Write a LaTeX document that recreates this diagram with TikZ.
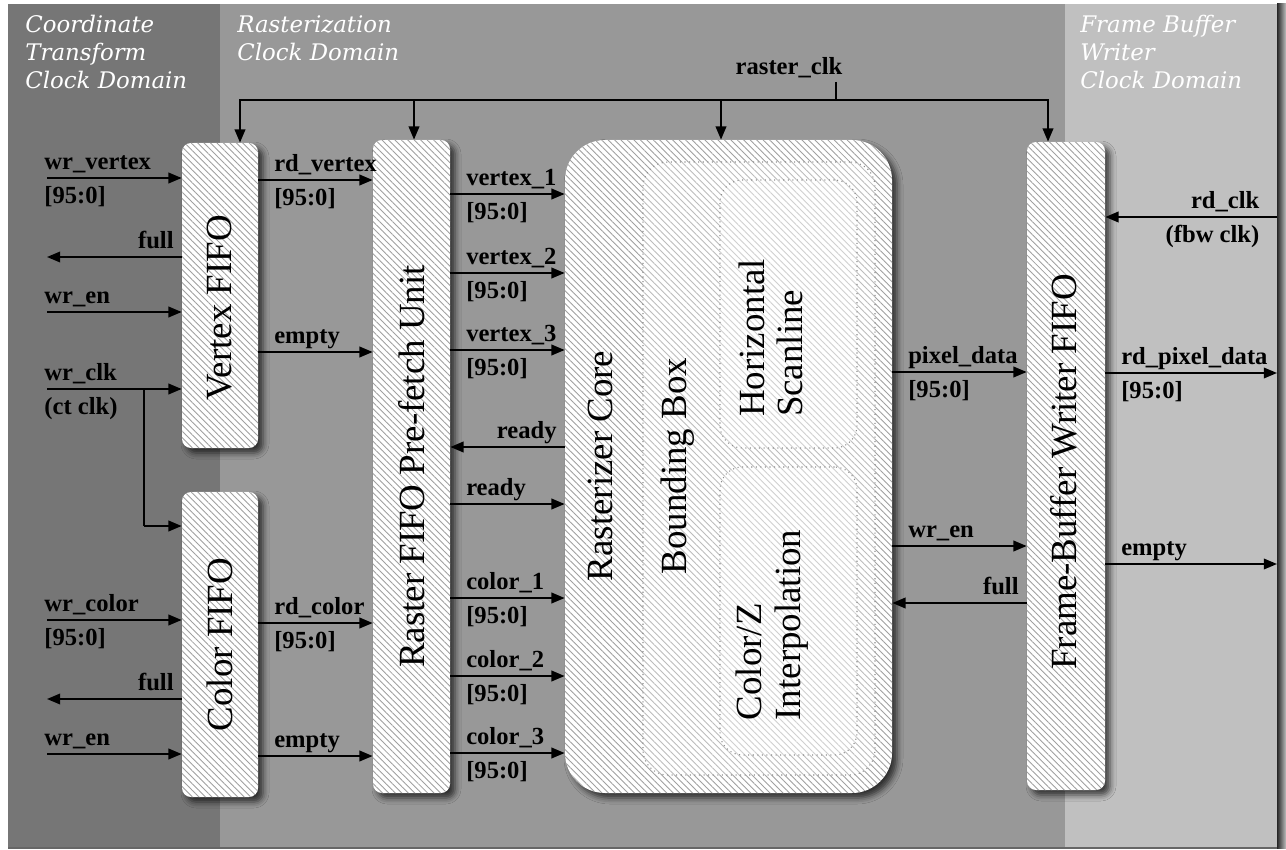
\documentclass[tikz,border=0pt]{standalone}
\usepackage{fontspec}
\setmainfont{Liberation Serif}
\newfontfamily\domfont{DejaVu Serif}
\usetikzlibrary{arrows.meta, patterns.meta, shadows.blur, calc}

\definecolor{ctgray}{RGB}{118,118,118}
\definecolor{rzgray}{RGB}{152,152,152}
\definecolor{fbgray}{RGB}{192,192,192}
\definecolor{hatch}{RGB}{160,160,160}

\begin{document}
\begin{tikzpicture}[x=0.2mm, y=-0.2mm,
  wire/.style={line width=1.1pt, black},
  sig/.style={wire, -{Triangle[length=7.5pt, width=6pt]}},
  lbl/.style={font=\fontsize{14}{16}\selectfont\bfseries, inner sep=0pt},
  tl/.style={lbl, pos=0, anchor=base west, yshift=5pt},
  bl/.style={lbl, pos=0, anchor=base west, yshift=-14.5pt},
  tr/.style={lbl, pos=0, anchor=base east, xshift=-4pt, yshift=5pt},
  hatched/.style={draw=none, fill=white,
    postaction={pattern={Lines[angle=-45, distance=2.6pt, line width=0.5pt]}, pattern color=hatch},
    blur shadow={shadow xshift=1mm, shadow yshift=-1mm, shadow blur radius=1.2mm, shadow opacity=70}},
  fifo/.style={hatched, rounded corners=1.8mm, minimum width=15.2mm, inner sep=0pt},
  dotbox/.style={draw=black!45, dotted, line width=0.6pt, fill=white, fill opacity=0.3,
    rounded corners=5mm, inner sep=0pt},
  boxtext/.style={rotate=90, font=\fontsize{21}{22}\selectfont, inner sep=0pt},
  domlabel/.style={font=\domfont\itshape\fontsize{13}{16}\selectfont, text=white,
    align=left, anchor=north west, inner sep=0pt}]

  \useasboundingbox (0,0) rectangle (1286,850);
  \fill[white] (0,0) rectangle (1286,850);

  % Clock domains
  \fill[ctgray] (8,4) rectangle (220,848);
  \fill[rzgray] (220,4) rectangle (1065,848);
  \fill[fbgray] (1065,4) rectangle (1277,848);
  \shade[left color=black!85, right color=black!25] (1277,4) rectangle (1286,848);
  \draw[black!60, line width=0.6pt] (8,848) -- (1277,848);
  \node[domlabel] (ctdom) at (25,15) {Coordinate\\Transform\\Clock Domain};
  \node[domlabel] (rzdom) at (237,15) {Rasterization\\Clock Domain};
  \node[domlabel] (fbdom) at (1080,15) {Frame Buffer\\Writer\\Clock Domain};

  % Blocks
  \node[fifo, minimum height=61mm] (vfifo) at (220,295.5) {};
  \node[fifo, minimum height=61mm] (cfifo) at (220,644.5) {};
  \node[fifo, minimum width=15.4mm, minimum height=130.6mm] (raster) at (411.5,466.5) {};
  \node[hatched, rounded corners=8mm, minimum width=65.4mm, minimum height=130.6mm,
        inner sep=0pt] (core) at (728.5,466.5) {};
  \node[fifo, minimum width=15.6mm, minimum height=129.6mm] (fbw) at (1066,466) {};
  \node[dotbox, minimum width=46.4mm, minimum height=122.6mm] (bbox) at (759,468.5) {};
  \node[dotbox, rounded corners=4.5mm, minimum width=27.4mm, minimum height=53.6mm] (hscan) at (788.5,314) {};
  \node[dotbox, rounded corners=4.5mm, minimum width=27.4mm, minimum height=57.6mm] (cinterp) at (788.5,611) {};

  \node[boxtext] (vfifotxt) at ([yshift=-2.5mm]vfifo.center) {Vertex FIFO};
  \node[boxtext] (cfifotxt) at (cfifo.center) {Color FIFO};
  \node[boxtext] (rastertxt) at (raster.center) {Raster FIFO Pre-fetch Unit};
  \node[boxtext] (coretxt) at (600,466) {Rasterizer Core};
  \node[boxtext] (bboxtxt) at (678,466) {Bounding Box};
  \node[boxtext, align=left] (hscantxt) at (771,338) {Horizontal\\Scanline};
  \node[boxtext, align=left] (cinterptxt) at (772,625) {Color/Z\\Interpolation};
  \node[boxtext] (fbwtxt) at (1064,472) {Frame-Buffer Writer FIFO};

  % raster_clk
  \coordinate (clkin) at (836,82);
  \coordinate (bus) at (836,100);
  \node[lbl, anchor=base] (clklbl) at (789,75) {raster\_clk};
  \draw[wire] (clkin) -- (bus);
  \draw[sig] (bus) -| ([xshift=4mm]vfifo.north);
  \draw[sig] (bus) -| ([xshift=0.5mm]raster.north);
  \draw[sig] (bus) -| ([xshift=-1.5mm]core.north);
  \draw[sig] (bus) -| ([xshift=-3.6mm]fbw.north);

  % Free ends
  \coordinate (wv) at (47,178);
  \coordinate (vfull) at (47,257);
  \coordinate (ven) at (47,312);
  \coordinate (wck) at (47,389);
  \coordinate (wbr) at (144,389);
  \coordinate (cck) at (144,526);
  \coordinate (wcol) at (47,620);
  \coordinate (cfull) at (47,699);
  \coordinate (cen) at (47,754);
  \coordinate (rdclk) at (1277,217);
  \coordinate (rpd) at (1277,373);
  \coordinate (fempty) at (1277,564);

  % Coordinate transform inputs
  \draw[sig] (wv) -- (wv -| vfifo.west) node[tl, xshift=-2pt] (wvt) {wr\_vertex}
    node[bl, xshift=-2pt] (wvb) {[95:0]};
  \draw[sig] (vfull -| vfifo.west) -- (vfull) node[tr] (vfullt) {full};
  \draw[sig] (ven) -- (ven -| vfifo.west) node[tl, xshift=-2pt] (vent) {wr\_en};
  \draw[sig] (wck) -- (wck -| vfifo.west) node[tl, xshift=-2pt] (wckt) {wr\_clk}
    node[bl, xshift=-2pt] (wckb) {(ct clk)};
  \draw[wire] (wbr) -- (cck);
  \draw[sig] (cck) -- (cck -| cfifo.west);
  \draw[sig] (wcol) -- (wcol -| cfifo.west) node[tl, xshift=-2pt] (wcolt) {wr\_color}
    node[bl, xshift=-2pt] (wcolb) {[95:0]};
  \draw[sig] (cfull -| cfifo.west) -- (cfull) node[tr] (cfullt) {full};
  \draw[sig] (cen) -- (cen -| cfifo.west) node[tl, xshift=-2pt] (cent) {wr\_en};

  % FIFOs to pre-fetch unit
  \draw[sig] (vfifo.east |- 0,180) -- (raster.west |- 0,180) node[tl, xshift=8.5pt] (rdvt) {rd\_vertex}
    node[bl, xshift=8.5pt] (rdvb) {[95:0]};
  \draw[sig] (vfifo.east |- 0,352) -- (raster.west |- 0,352) node[tl, xshift=8.5pt] (vemt) {empty};
  \draw[sig] (cfifo.east |- 0,623) -- (raster.west |- 0,623) node[tl, xshift=8.5pt] (rdct) {rd\_color}
    node[bl, xshift=8.5pt] (rdcb) {[95:0]};
  \draw[sig] (cfifo.east |- 0,756) -- (raster.west |- 0,756) node[tl, xshift=8.5pt] (cemt) {empty};

  % Pre-fetch unit to rasterizer core
  \foreach \y/\lab [count=\i] in {194/vertex\_1, 273/vertex\_2, 350/vertex\_3,
                                 598/color\_1, 676/color\_2, 753/color\_3} {
    \draw[sig] (raster.east |- 0,\y) -- (core.west |- 0,\y) node[tl, xshift=8.5pt] (bus\i t) {\lab}
      node[bl, xshift=8.5pt] (bus\i b) {[95:0]};
  }
  \draw[sig] (core.west |- 0,447) -- (raster.east |- 0,447) node[tr] (rdyl) {ready};
  \draw[sig] (raster.east |- 0,504) -- (core.west |- 0,504) node[tl, xshift=8.5pt] (rdyr) {ready};

  % Rasterizer core to frame-buffer writer
  \draw[sig] (core.east |- 0,372) -- (fbw.west |- 0,372) node[tl, xshift=8.5pt] (pxt) {pixel\_data}
    node[bl, xshift=8.5pt] (pxb) {[95:0]};
  \draw[sig] (core.east |- 0,546) -- (fbw.west |- 0,546) node[tl, xshift=8.5pt] (fwent) {wr\_en};
  \draw[sig] (fbw.west |- 0,603) -- (core.east |- 0,603) node[tr] (ffullt) {full};

  % Frame buffer writer side
  \draw[sig] (rdclk) -- (rdclk -| fbw.east) node[lbl, pos=0, anchor=base east, xshift=-9.5pt, yshift=5pt] (rdclkt) {rd\_clk}
    node[lbl, pos=0, anchor=base east, xshift=-9.5pt, yshift=-14.5pt] (rdclkb) {(fbw clk)};
  \draw[sig] (rpd -| fbw.east) -- (rpd) node[tl, xshift=8.5pt] (rpdt) {rd\_pixel\_data}
    node[bl, xshift=8.5pt] (rpdb) {[95:0]};
  \draw[sig] (fempty -| fbw.east) -- (fempty) node[tl, xshift=8.5pt] (femt) {empty};
\end{tikzpicture}
\end{document}
